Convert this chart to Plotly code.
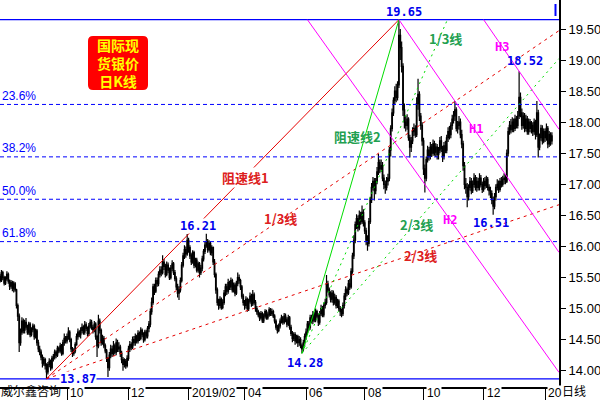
import pandas as pd
import plotly.graph_objects as go

# ---------------- data ----------------
first_open = 15.48
closes = [
    15.52, 15.45, 15.58, 15.50, 15.41, 15.48, 15.55, 15.44, 15.36, 15.42,
    15.33, 15.40, 15.30, 15.05, 14.88, 14.45, 14.62, 14.80, 14.65, 14.78,
    14.70, 14.62, 14.75, 14.58, 14.66, 14.72, 14.55, 14.64, 14.45, 14.35,
    14.30, 14.22, 14.12, 14.18, 14.08, 13.98, 14.10, 14.15, 14.05, 14.20,
    14.22, 14.30, 14.25, 14.36, 14.32, 14.40, 14.28, 14.45, 14.52, 14.48,
    14.55, 14.62, 14.50, 14.35, 14.28, 14.32, 14.42, 14.55, 14.62, 14.58,
    14.65, 14.70, 14.62, 14.74, 14.68, 14.60, 14.72, 14.78, 14.70, 14.66,
    14.75, 14.55, 14.40, 14.80, 14.65, 14.45, 14.52, 14.40, 14.32, 14.20,
    14.05, 14.25, 14.35, 14.28, 14.40, 14.30, 14.45, 14.35, 14.38, 14.28,
    14.18, 14.10, 14.15, 14.08, 14.20, 14.35, 14.42, 14.38, 14.50, 14.45,
    14.55, 14.48, 14.60, 14.52, 14.65, 14.58, 14.50, 14.62, 14.56, 14.68,
    14.75, 14.95, 15.10, 15.35, 15.28, 15.45, 15.40, 15.55, 15.62, 15.58,
    15.75, 15.68, 15.55, 15.70, 15.62, 15.50, 15.65, 15.72, 15.58, 15.48,
    15.35, 15.25, 15.30, 15.45, 15.70, 15.85, 15.95, 15.88, 16.10, 15.98,
    15.85, 15.75, 15.90, 15.70, 15.78, 15.62, 15.72, 15.58, 15.65, 15.80,
    15.92, 16.02, 16.08, 15.95, 16.05, 15.90, 15.98, 15.75, 15.55, 15.30,
    15.10, 15.05, 15.15, 15.02, 15.10, 15.25, 15.35, 15.28, 15.42, 15.35,
    15.45, 15.30, 15.38, 15.25, 15.40, 15.50, 15.45, 15.35, 15.20, 15.10,
    15.05, 15.15, 15.00, 15.12, 15.20, 15.08, 15.22, 15.10, 15.00, 14.95,
    14.90, 14.85, 14.92, 14.80, 14.88, 14.95, 14.85, 14.90, 14.98, 14.92,
    14.95, 14.88, 14.80, 14.70, 14.65, 14.72, 14.80, 14.85, 14.78, 14.88,
    14.82, 14.75, 14.85, 14.70, 14.60, 14.52, 14.58, 14.48, 14.55, 14.45,
    14.50, 14.40, 14.35, 14.45, 14.55, 14.62, 14.75, 14.70, 14.85, 14.80,
    14.90, 14.82, 14.95, 14.88, 14.78, 14.92, 15.00, 14.90, 15.05, 15.10,
    15.40, 15.30, 15.22, 15.15, 15.25, 15.10, 15.18, 15.05, 15.12, 15.00,
    14.95, 14.92, 15.05, 15.20, 15.30, 15.25, 15.40, 15.35, 15.60, 15.85,
    16.10, 16.35, 16.45, 16.30, 16.50, 16.40, 16.55, 16.38, 16.25, 16.10,
    16.05, 16.40, 16.75, 16.95, 17.05, 16.90, 17.05, 17.20, 17.35, 17.25,
    17.30, 17.10, 17.00, 16.95, 17.05, 17.10, 17.55, 17.90, 18.15, 18.35,
    18.50, 18.40, 18.60, 19.40, 19.20, 18.90, 18.20, 18.00, 17.95, 18.05,
    17.75, 17.60, 17.70, 17.85, 17.90, 17.80, 18.30, 18.45, 18.10, 17.95,
    17.70, 17.25, 17.10, 17.40, 17.55, 17.45, 17.60, 17.50, 17.65, 17.52,
    17.60, 17.48, 17.55, 17.70, 17.58, 17.45, 17.62, 17.55, 17.75, 17.85,
    17.80, 17.95, 18.05, 18.10, 18.20, 17.90, 17.95, 18.00, 17.80, 17.65,
    17.30, 17.00, 16.95, 16.80, 16.95, 17.05, 16.90, 17.00, 17.10, 16.95,
    17.05, 16.95, 17.10, 17.00, 16.92, 17.05, 16.98, 17.08, 16.95, 16.90,
    16.85, 16.75, 16.65, 16.80, 16.95, 17.00, 16.92, 17.05, 17.00, 17.08,
    17.10, 17.05, 17.50, 17.85, 17.95, 17.88, 18.00, 17.90, 18.05, 17.95,
    18.10, 18.40, 18.15, 17.95, 18.10, 17.90, 18.05, 17.85, 18.00, 17.90,
    17.95, 17.85, 18.00, 17.80, 18.15, 17.60, 17.75, 17.90, 17.70, 17.85,
    17.75, 17.90, 17.65, 17.80, 17.70, 17.78,
]
highs = [
    15.58, 15.56, 15.62, 15.61, 15.53, 15.52, 15.60, 15.58, 15.47, 15.46,
    15.45, 15.44, 15.43, 15.32, 15.08, 14.92, 14.68, 14.86, 14.84, 14.82,
    14.85, 14.74, 14.79, 14.78, 14.70, 14.76, 14.75, 14.68, 14.67, 14.50,
    14.40, 14.34, 14.26, 14.22, 14.21, 14.12, 14.14, 14.20, 14.18, 14.24,
    14.27, 14.34, 14.33, 14.40, 14.39, 14.45, 14.43, 14.50, 14.60, 14.56,
    14.60, 14.70, 14.65, 14.53, 14.38, 14.36, 14.46, 14.60, 14.68, 14.65,
    14.70, 14.76, 14.73, 14.80, 14.78, 14.71, 14.77, 14.83, 14.82, 14.74,
    14.80, 14.78, 14.58, 14.90, 14.84, 14.68, 14.58, 14.56, 14.44, 14.35,
    14.22, 14.30, 14.42, 14.40, 14.48, 14.44, 14.52, 14.50, 14.46, 14.42,
    14.32, 14.22, 14.20, 14.19, 14.25, 14.40, 14.48, 14.46, 14.55, 14.56,
    14.60, 14.58, 14.65, 14.63, 14.70, 14.68, 14.62, 14.66, 14.66, 14.72,
    14.80, 15.00, 15.18, 15.40, 15.40, 15.50, 15.50, 15.60, 15.68, 15.68,
    15.86, 15.80, 15.72, 15.76, 15.74, 15.66, 15.70, 15.78, 15.75, 15.62,
    15.52, 15.40, 15.36, 15.50, 15.75, 15.90, 16.02, 16.00, 16.20, 16.14,
    16.02, 15.89, 15.94, 15.93, 15.82, 15.82, 15.76, 15.75, 15.70, 15.85,
    15.96, 16.08, 16.21, 16.12, 16.10, 16.08, 16.02, 16.00, 15.80, 15.58,
    15.34, 15.16, 15.20, 15.18, 15.15, 15.30, 15.40, 15.40, 15.48, 15.45,
    15.50, 15.48, 15.42, 15.42, 15.45, 15.58, 15.55, 15.48, 15.38, 15.24,
    15.14, 15.20, 15.18, 15.16, 15.26, 15.24, 15.30, 15.26, 15.14, 15.04,
    14.98, 14.94, 14.96, 14.95, 14.92, 14.99, 14.98, 14.94, 15.02, 15.01,
    15.00, 14.98, 14.91, 14.83, 14.74, 14.76, 14.84, 14.90, 14.88, 14.93,
    14.92, 14.86, 14.90, 14.88, 14.74, 14.64, 14.62, 14.62, 14.58, 14.58,
    14.56, 14.54, 14.44, 14.50, 14.60, 14.68, 14.80, 14.80, 14.90, 14.90,
    14.96, 14.94, 15.00, 14.98, 14.92, 14.96, 15.06, 15.04, 15.10, 15.16,
    15.54, 15.45, 15.34, 15.28, 15.30, 15.29, 15.24, 15.22, 15.16, 15.15,
    15.04, 15.00, 15.10, 15.25, 15.36, 15.34, 15.46, 15.48, 15.65, 15.90,
    16.18, 16.40, 16.52, 16.50, 16.58, 16.56, 16.66, 16.60, 16.42, 16.30,
    16.18, 16.46, 16.80, 17.02, 17.12, 17.10, 17.10, 17.28, 17.49, 17.40,
    17.40, 17.36, 17.16, 17.06, 17.12, 17.17, 17.60, 17.95, 18.22, 18.40,
    18.58, 18.62, 18.66, 19.65, 19.50, 19.30, 18.95, 18.30, 18.10, 18.13,
    18.08, 17.80, 17.76, 17.92, 17.98, 17.95, 18.40, 18.70, 18.50, 18.15,
    18.00, 17.75, 17.32, 17.45, 17.62, 17.60, 17.68, 17.65, 17.72, 17.70,
    17.66, 17.65, 17.60, 17.76, 17.78, 17.62, 17.68, 17.70, 17.80, 17.92,
    17.94, 18.00, 18.12, 18.18, 18.34, 18.24, 18.02, 18.10, 18.06, 17.88,
    17.70, 17.36, 17.10, 17.02, 17.00, 17.12, 17.10, 17.06, 17.18, 17.15,
    17.12, 17.10, 17.18, 17.15, 17.04, 17.10, 17.12, 17.14, 17.12, 17.00,
    16.96, 16.90, 16.80, 16.86, 17.00, 17.08, 17.06, 17.10, 17.12, 17.14,
    17.18, 17.16, 17.56, 17.92, 18.02, 18.05, 18.08, 18.06, 18.12, 18.10,
    18.18, 18.82, 18.48, 18.22, 18.16, 18.15, 18.12, 18.10, 18.06, 18.05,
    18.02, 18.00, 18.06, 18.04, 18.34, 18.20, 17.82, 17.96, 17.95, 17.90,
    17.90, 17.98, 17.94, 17.86, 17.84, 17.84,
]
lows = [
    15.44, 15.42, 15.43, 15.46, 15.37, 15.38, 15.45, 15.40, 15.30, 15.32,
    15.28, 15.26, 15.27, 15.00, 14.80, 14.30, 14.40, 14.58, 14.60, 14.60,
    14.66, 14.58, 14.58, 14.54, 14.55, 14.62, 14.50, 14.52, 14.40, 14.30,
    14.25, 14.17, 14.05, 14.08, 14.02, 13.87, 13.94, 14.06, 14.00, 14.02,
    14.15, 14.18, 14.20, 14.22, 14.28, 14.29, 14.24, 14.25, 14.40, 14.44,
    14.44, 14.50, 14.46, 14.30, 14.22, 14.24, 14.28, 14.40, 14.50, 14.54,
    14.52, 14.60, 14.58, 14.58, 14.64, 14.55, 14.56, 14.68, 14.66, 14.60,
    14.62, 14.50, 14.22, 14.36, 14.60, 14.40, 14.42, 14.36, 14.28, 14.14,
    13.90, 14.00, 14.20, 14.22, 14.24, 14.26, 14.25, 14.30, 14.30, 14.22,
    14.12, 14.00, 14.05, 14.03, 14.05, 14.16, 14.30, 14.33, 14.35, 14.40,
    14.40, 14.44, 14.44, 14.48, 14.49, 14.54, 14.45, 14.47, 14.52, 14.52,
    14.62, 14.70, 14.90, 15.06, 15.22, 15.25, 15.35, 15.36, 15.50, 15.52,
    15.55, 15.62, 15.50, 15.52, 15.57, 15.46, 15.47, 15.60, 15.54, 15.44,
    15.30, 15.18, 15.14, 15.26, 15.42, 15.66, 15.80, 15.82, 15.85, 15.90,
    15.80, 15.70, 15.72, 15.65, 15.66, 15.58, 15.58, 15.50, 15.54, 15.60,
    15.76, 15.88, 15.98, 15.90, 15.92, 15.86, 15.85, 15.70, 15.50, 15.24,
    15.05, 14.98, 15.00, 14.98, 14.99, 15.06, 15.20, 15.22, 15.24, 15.30,
    15.30, 15.26, 15.26, 15.20, 15.22, 15.36, 15.40, 15.30, 15.16, 15.05,
    14.98, 15.00, 14.95, 14.96, 15.08, 15.03, 15.04, 15.06, 14.95, 14.90,
    14.86, 14.80, 14.82, 14.77, 14.77, 14.84, 14.82, 14.82, 14.87, 14.88,
    14.88, 14.85, 14.76, 14.66, 14.60, 14.62, 14.68, 14.76, 14.74, 14.75,
    14.78, 14.70, 14.72, 14.66, 14.56, 14.46, 14.48, 14.42, 14.44, 14.38,
    14.40, 14.36, 14.28, 14.31, 14.40, 14.50, 14.58, 14.64, 14.66, 14.76,
    14.75, 14.78, 14.78, 14.84, 14.72, 14.74, 14.88, 14.86, 14.86, 15.00,
    15.06, 15.26, 15.18, 15.10, 15.10, 15.05, 15.06, 15.00, 15.01, 14.96,
    14.88, 14.86, 14.88, 15.00, 15.14, 15.20, 15.22, 15.30, 15.32, 15.56,
    15.80, 16.05, 16.28, 16.24, 16.26, 16.35, 16.36, 16.32, 16.20, 16.02,
    15.93, 16.00, 16.36, 16.70, 16.90, 16.74, 16.84, 17.00, 17.15, 17.18,
    17.20, 17.05, 16.92, 16.85, 16.90, 16.98, 17.05, 17.45, 17.85, 18.10,
    18.28, 18.32, 18.35, 18.55, 19.00, 18.80, 18.10, 17.90, 17.85, 17.88,
    17.70, 17.43, 17.52, 17.65, 17.78, 17.75, 17.76, 18.20, 18.02, 17.88,
    17.62, 17.15, 16.87, 17.05, 17.35, 17.38, 17.40, 17.44, 17.46, 17.46,
    17.44, 17.40, 17.40, 17.50, 17.52, 17.36, 17.40, 17.50, 17.50, 17.68,
    17.72, 17.74, 17.88, 17.98, 18.02, 17.85, 17.82, 17.88, 17.74, 17.58,
    17.22, 16.92, 16.85, 16.63, 16.74, 16.90, 16.84, 16.86, 16.95, 16.90,
    16.88, 16.90, 16.90, 16.96, 16.86, 16.88, 16.92, 16.94, 16.90, 16.82,
    16.78, 16.68, 16.51, 16.60, 16.74, 16.90, 16.86, 16.88, 16.95, 16.96,
    17.00, 17.00, 17.02, 17.45, 17.80, 17.82, 17.84, 17.84, 17.86, 17.90,
    17.90, 18.05, 18.08, 17.88, 17.90, 17.84, 17.85, 17.80, 17.80, 17.84,
    17.82, 17.78, 17.80, 17.72, 17.76, 17.43, 17.55, 17.70, 17.64, 17.66,
    17.68, 17.70, 17.58, 17.60, 17.62, 17.64,
]
# spot silver trades round the clock: each bar opens where the previous closed
opens = [first_open] + closes[:-1]

start_date = "2018-07-23"
tick_months = ["2018-10", "2018-12", "2019-02", "2019-04", "2019-06",
               "2019-08", "2019-10", "2019-12", "2020-02"]
tick_labels = ["10", "12", "2019/02", "04", "06", "08", "10", "12", "20"]
y_ticks = [14.0, 14.5, 15.0, 15.5, 16.0, 16.5, 17.0, 17.5, 18.0, 18.5, 19.0, 19.5]
fib_ratios = [0.236, 0.382, 0.5, 0.618]
fib_labels = ["23.6%", "38.2%", "50.0%", "61.8%"]
mark_labels = ["19.65", "18.52", "16.51", "16.21", "14.28", "13.87"]
h2_points = [(226, 19.65), (409, 14.01)]

# ---------------- geometry ----------------
n = len(closes)
idx = list(range(n))
dates = pd.bdate_range(start_date, periods=n)
tick_pos = [int((dates >= pd.Timestamp(m + "-01")).argmax()) for m in tick_months]

X0, X1 = 0.95, 410.2
Y0, Y1 = 13.738, 19.967
W, H = 600, 400
ML, MR, MT, MB = 0, 41, 0, 13
PW, PH = W - ML - MR, H - MT - MB


def x2px(x):
    return (x - X0) / (X1 - X0) * PW


def y2py(y):
    return (Y1 - y) / (Y1 - Y0) * PH


i_low = lows.index(min(lows[:120]))
p_low = lows[i_low]
i_high = highs.index(max(highs))
p_high = highs[i_high]
i_low2 = 200 + lows[200:260].index(min(lows[200:260]))
p_low2 = lows[i_low2]
i_nov = 320 + highs[320:345].index(max(highs[320:345]))
i_jan = 370 + highs[370:390].index(max(highs[370:390]))

RED = "#e60000"
GREEN = "#00dd00"
MAG = "#ff00ff"
BLUE = "#0000ff"

fig = go.Figure()


def seg(x0, y0, x1, y1, color, dash="solid", width=1):
    fig.add_trace(go.Scatter(x=[x0, x1], y=[y0, y1], mode="lines",
                             line=dict(color=color, width=width, dash=dash),
                             hoverinfo="skip", showlegend=False))


def ray(x0, y0, slope, color, dash, cap=None):
    x1 = X1
    if cap is not None and slope > 0:
        x1 = min(X1, x0 + (cap - y0) / slope)
    seg(x0, y0, x1, y0 + slope * (x1 - x0), color, dash)


# horizontal levels
seg(X0, p_high, X1, p_high, BLUE, "solid", 1.2)
seg(X0, p_low, X1, p_low, BLUE, "solid", 1.2)
rng = p_high - p_low
for r in fib_ratios:
    lv = p_high - r * rng
    seg(X0, lv, X1, lv, BLUE, "4px,3px", 1)

# speed resistance set 1 (red)
seg(i_low, p_low, i_high, p_high, RED, "solid", 1)
for k in (2 / 3, 1 / 3):
    s = k * rng / (i_high - i_low)
    ray(i_low, p_low, s, RED, "3px,4px", cap=p_high)

# speed resistance set 2 (green)
rng2 = p_high - p_low2
seg(i_low2, p_low2, i_high, p_high, GREEN, "solid", 1)
for k in (2 / 3, 1 / 3):
    s = k * rng2 / (i_high - i_low2)
    ray(i_low2, p_low2, s, GREEN, "2px,4px", cap=p_high)

# magenta channel lines
m = (highs[i_nov] - p_high) / (i_nov - i_high)
seg(i_high, p_high, X1, p_high + m * (X1 - i_high), MAG)
x_h3 = i_jan + (p_high - highs[i_jan]) / m
seg(x_h3, p_high, X1, highs[i_jan] + m * (X1 - i_jan), MAG)
(hx0, hy0), (hx1, hy1) = h2_points
m2 = (hy1 - hy0) / (hx1 - hx0)
seg(hx0, hy0, X1, hy0 + m2 * (X1 - hx0), MAG)

# candles
fig.add_trace(go.Candlestick(
    x=idx, open=opens, high=highs, low=lows, close=closes,
    increasing=dict(line=dict(color="black", width=1.2), fillcolor="black"),
    decreasing=dict(line=dict(color="black", width=1.2), fillcolor="black"),
    whiskerwidth=0, hoverinfo="skip", showlegend=False))


def P(px, py):
    return px / PW, (PH - py) / PH


def label(text, px, py, color, size, family, xanchor="center", bg=None,
          yanchor="middle"):
    x, y = P(px, py)
    fig.add_annotation(x=x, y=y, xref="paper", yref="paper", text=text,
                       showarrow=False, xanchor=xanchor, yanchor=yanchor,
                       font=dict(color=color, size=size, family=family),
                       bgcolor=bg, borderpad=0)


MONO = "DejaVu Sans Mono"
CJK = "Noto Sans CJK SC"
SANS = "Liberation Sans"

# extreme-value labels
mark_pos = [(404, 12.5), (524.5, 61.5), (490.5, 222.5), (198, 226.5), (305, 362.5), (78, 378.5)]
for t, (px, py) in zip(mark_labels, mark_pos):
    label("<b>" + t + "</b>", px, py, "#0000ee", 12, MONO,
          bg="white" if t in ("13.87", "16.21") else None)

# fib labels
for r, t in zip(fib_ratios, fib_labels):
    py = y2py(p_high - r * rng) - 8.5
    label(t, 1, py, BLUE, 12, SANS, xanchor="left")

# speed line labels
label("<b>阻速线1</b>", 245, 177, "#dd2020", 13, CJK, bg="white")
label("<b>1/3线</b>", 280, 218, "#dd2020", 13, CJK)
label("<b>2/3线</b>", 420, 256, "#dd2020", 13, CJK)
label("<b>阻速线2</b>", 357, 136, "#22a050", 13, CJK)
label("<b>2/3线</b>", 416, 225, "#22a050", 13, CJK)
label("<b>1/3线</b>", 445, 39, "#22a050", 13, CJK)
label("<b>H1</b>", 476, 129, MAG, 12, MONO)
label("<b>H2</b>", 449.5, 220, MAG, 12, MONO)
label("<b>H3</b>", 502.5, 47, MAG, 12, MONO)

# title box
bx0, by0, bx1, by1 = 88, 36, 148, 90
rx, ry = 5 / PW, 5 / PH
X_0, Y_1 = P(bx0, by0)
X_1, Y_0 = P(bx1, by1)
path = (f"M {X_0+rx},{Y_1} L {X_1-rx},{Y_1} Q {X_1},{Y_1} {X_1},{Y_1-ry} "
        f"L {X_1},{Y_0+ry} Q {X_1},{Y_0} {X_1-rx},{Y_0} L {X_0+rx},{Y_0} "
        f"Q {X_0},{Y_0} {X_0},{Y_0+ry} L {X_0},{Y_1-ry} Q {X_0},{Y_1} {X_0+rx},{Y_1} Z")
fig.add_shape(type="path", path=path, xref="paper", yref="paper",
              fillcolor="#ff0000", line=dict(width=0), layer="above")
label("<b>国际现<br>货银价<br>日K线</b>", 118, 63, "#ffff00", 14, CJK)

# bottom row texts
label("威尔鑫咨询", 0, 400, "black", 12, CJK, xanchor="left", yanchor="bottom")
for tp, tl in zip(tick_pos, tick_labels):
    label(tl, x2px(tp) + 2, 393, "black", 12, SANS, xanchor="left", bg="white")
label("日线", 561, 400, "black", 12, CJK, xanchor="left", yanchor="bottom")

# right border extension and top-right blue marker
fig.add_shape(type="line", xref="paper", yref="paper", x0=1.0, x1=1.0,
              y0=0, y1=-MB / PH, line=dict(color="black", width=2))
mx, my0 = P(555.5, 4)
_, my1 = P(555.5, 16)
fig.add_shape(type="line", xref="paper", yref="paper", x0=mx, x1=mx,
              y0=my0, y1=my1, line=dict(color=BLUE, width=2))

fig.update_layout(
    width=W, height=H, margin=dict(l=ML, r=MR, t=MT, b=MB, autoexpand=False),
    paper_bgcolor="white", plot_bgcolor="white", showlegend=False,
    xaxis=dict(range=[X0, X1], rangeslider=dict(visible=False), showgrid=False,
               zeroline=False, showline=True, linecolor="black", linewidth=2,
               tickvals=tick_pos, ticktext=[""] * len(tick_pos), ticks="outside",
               ticklen=13, tickcolor="black", tickwidth=1, fixedrange=True,
               automargin=False),
    yaxis=dict(range=[Y0, Y1], side="right", showgrid=False, zeroline=False,
               showline=True, linecolor="black", linewidth=2,
               tickvals=y_ticks, tickformat=".2f", ticks="outside", ticklen=5,
               tickcolor="black", tickfont=dict(family=SANS, size=13, color="black"),
               fixedrange=True, automargin=False),
)

fig.write_html("out.html", config={"displayModeBar": False},
               post_script="document.body.style.margin='0';document.body.style.padding='0';")
